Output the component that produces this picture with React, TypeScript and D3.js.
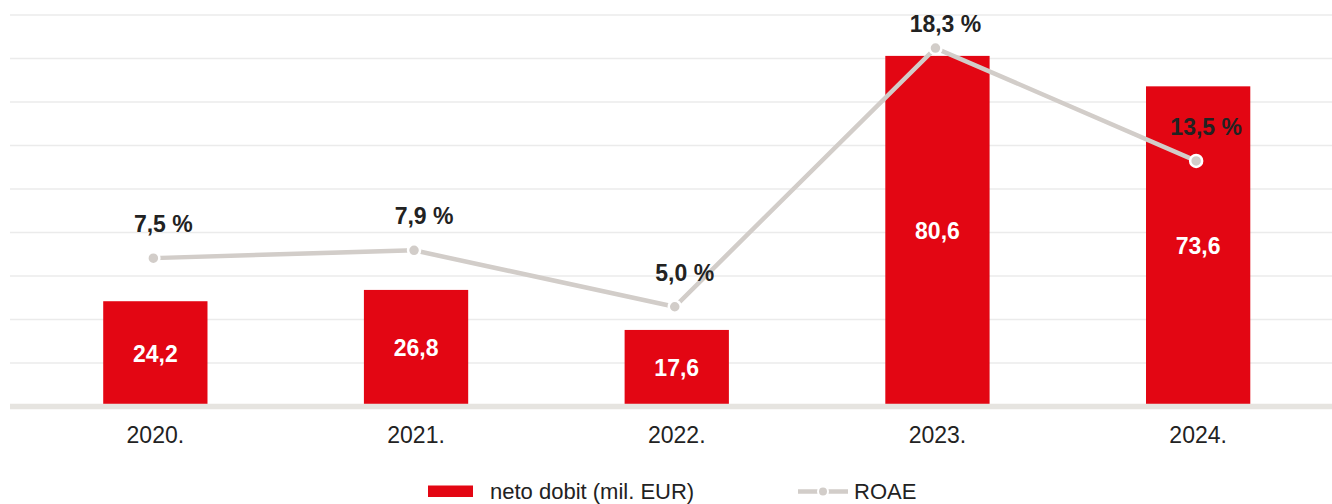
import React from "react";
import * as d3 from "d3";

const categories = ["2020.", "2021.", "2022.", "2023.", "2024."];
const netProfit = [24.2, 26.8, 17.6, 80.6, 73.6];
const netProfitLabels = ["24,2", "26,8", "17,6", "80,6", "73,6"];
const roaePlotted = [7.5, 7.9, 5.0, 18.3, 12.5];
const roaeLabels = ["7,5 %", "7,9 %", "5,0 %", "18,3 %", "13,5 %"];
const leftTicks = [0, 10, 20, 30, 40, 50, 60, 70, 80, 90];
const legendLabels = ["neto dobit (mil. EUR)", "ROAE"];

const W = 1332;
const H = 504;
const RED = "#e30613";
const LINE = "#d2cdc9";
const TEXT = "#222222";
const GRID = "#ebebeb";
const FONT = "'Liberation Sans', Arial, Helvetica, sans-serif";

export default function App() {
  const x = d3
    .scaleBand<string>()
    .domain(categories)
    .range([25, 1328.5])
    .paddingInner(0.6)
    .paddingOuter(0.3);
  const y = d3.scaleLinear().domain([0, 90]).range([406.5, 15]);
  const y2 = d3.scaleLinear().domain([0, 20]).range([404, 15]);
  const cx = (c: string) => (x(c) as number) + x.bandwidth() / 2;
  const px = (i: number) => cx(categories[i]) - 2;

  const line = d3
    .line<number>()
    .x((_, i) => px(i))
    .y((v) => y2(v));

  return (
    <svg
      width={W}
      height={H}
      style={{ position: "absolute", left: 0, top: 0, background: "#fff" }}
      fontFamily={FONT}
    >
      {leftTicks.slice(1).map((t) => (
        <line key={t} x1={10} x2={W} y1={y(t)} y2={y(t)} stroke={GRID} strokeWidth={1.5} />
      ))}
      {netProfit.map((v, i) => (
        <rect
          key={categories[i]}
          x={x(categories[i])}
          y={y(v)}
          width={x.bandwidth()}
          height={y(0) - y(v)}
          fill={RED}
        />
      ))}
      <line x1={10} x2={W} y1={y(0)} y2={y(0)} stroke="#e6e4e0" strokeWidth={5.5} />
      {netProfit.map((v, i) => (
        <text
          key={"bl" + i}
          x={cx(categories[i])}
          y={(y(v) + y(0)) / 2 + 8}
          textAnchor="middle"
          fill="#fff"
          fontWeight="bold"
          fontSize={23}
        >
          {netProfitLabels[i]}
        </text>
      ))}
      {categories.map((c) => (
        <text key={c} x={cx(c)} y={443} textAnchor="middle" fill={TEXT} fontSize={23}>
          {c}
        </text>
      ))}
      <path d={line(roaePlotted) || ""} fill="none" stroke={LINE} strokeWidth={4.5} />
      {roaePlotted.map((v, i) => (
        <circle
          key={"p" + i}
          cx={px(i)}
          cy={y2(v)}
          r={6}
          fill={LINE}
          stroke="#fff"
          strokeWidth={2.5}
        />
      ))}
      {roaePlotted.map((v, i) => (
        <text
          key={"rl" + i}
          x={px(i) + 10}
          y={Math.max(y2(v) - 26, 32)}
          textAnchor="middle"
          fill={TEXT}
          fontWeight="bold"
          fontSize={23}
        >
          {roaeLabels[i]}
        </text>
      ))}
      <g>
        <rect x={428} y={485.5} width={45} height={11.5} fill={RED} />
        <text x={490} y={498.5} fill={TEXT} fontSize={22}>
          {legendLabels[0]}
        </text>
        <line x1={798} x2={848} y1={491.5} y2={491.5} stroke={LINE} strokeWidth={4.5} />
        <circle cx={823} cy={491.5} r={5} fill={LINE} stroke="#fff" strokeWidth={2} />
        <text x={854} y={498.5} fill={TEXT} fontSize={22}>
          {legendLabels[1]}
        </text>
      </g>
    </svg>
  );
}
